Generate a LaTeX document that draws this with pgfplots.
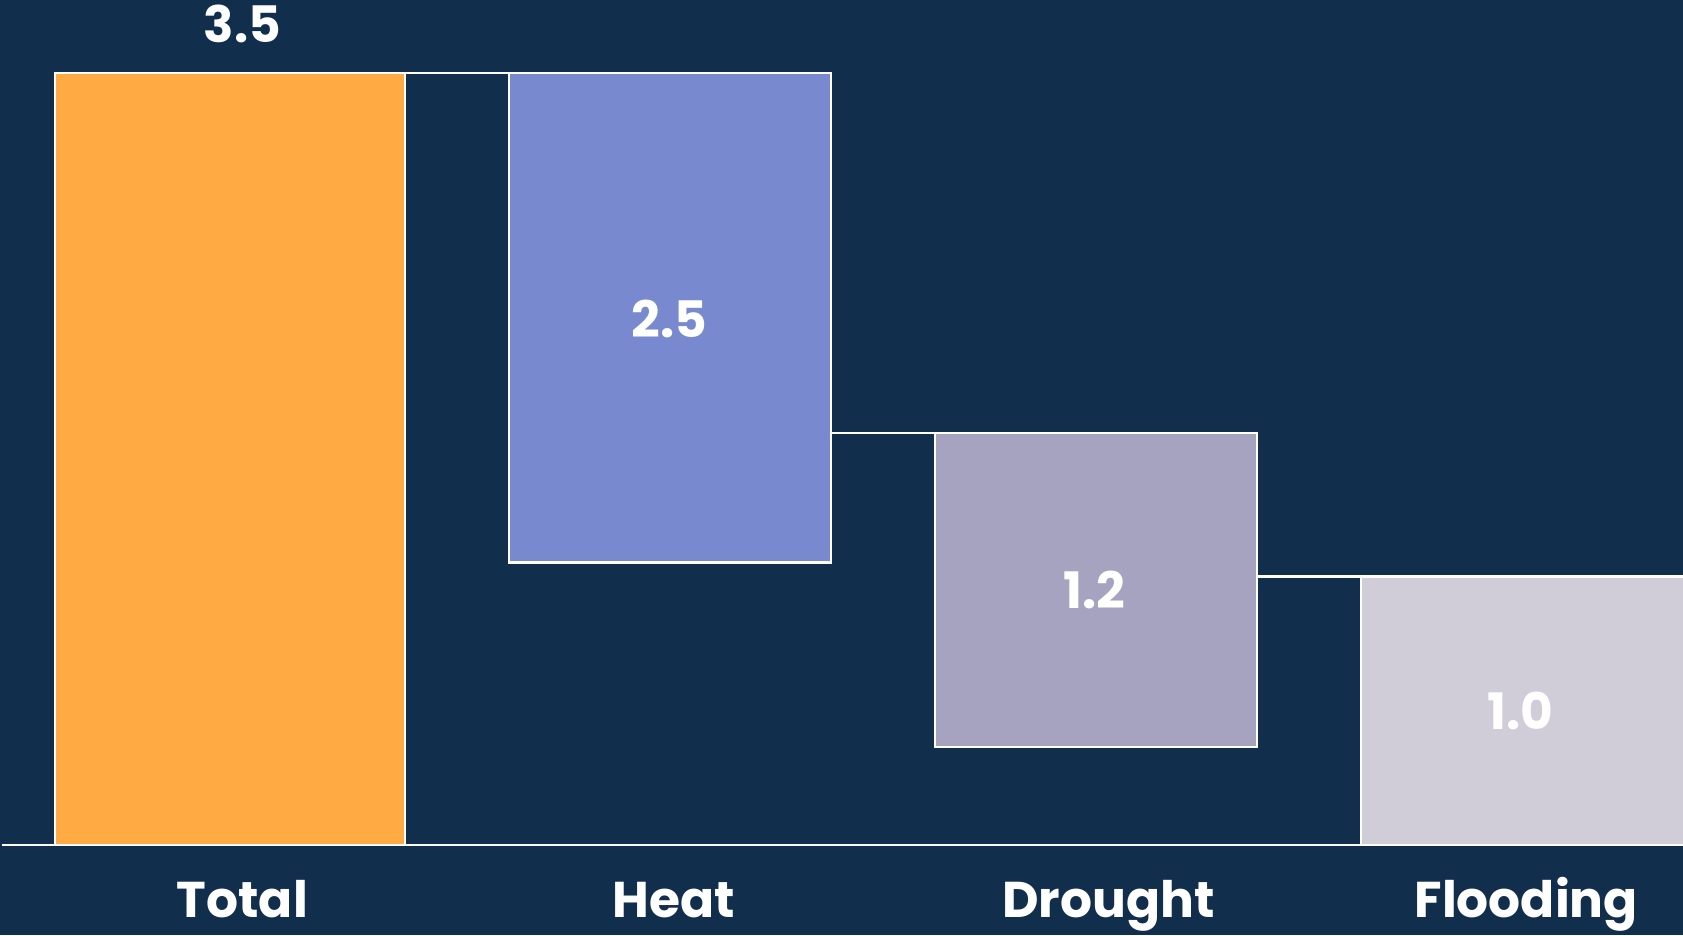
\documentclass[border=0pt]{standalone}
\usepackage{pgfplots}
\pgfplotsset{compat=1.18}
\usepackage{fontspec}
\setmainfont{Poppins}[BoldFont={Poppins Bold}]
\definecolor{bgnavy}{RGB}{18,46,77}
\definecolor{ctotal}{RGB}{255,170,66}
\definecolor{cheat}{RGB}{120,137,207}
\definecolor{cdrought}{RGB}{165,163,191}
\definecolor{cflood}{RGB}{208,205,216}
\tikzset{lbl/.style={text=white, anchor=base, inner sep=0pt, font=\fontsize{14.3}{17}\selectfont\bfseries}}
\begin{document}
\begin{tikzpicture}
\begin{axis}[
  name=ax,
  width=16.83cm, height=9.35cm, scale only axis,
  xmin=-0.5718, xmax=3.378, ymin=-0.4089, ymax=3.831,
  axis lines=none, clip=false,
  axis background/.style={fill=bgnavy},
]
% bars
\addplot[fill=ctotal, draw=white, line width=0.6pt] coordinates {(-0.4433,0) (0.3778,0) (0.3778,3.5) (-0.4433,3.5)} --cycle;
\addplot[fill=cheat, draw=white, line width=0.6pt] coordinates {(0.6222,1.280) (1.3778,1.280) (1.3778,3.5) (0.6222,3.5)} --cycle;
\addplot[fill=cdrought, draw=white, line width=0.6pt] coordinates {(1.6222,0.443) (2.3778,0.443) (2.3778,1.869) (1.6222,1.869)} --cycle;
\addplot[fill=cflood, draw=white, line width=0.6pt] coordinates {(2.6222,0) (3.39,0) (3.39,1.217) (2.6222,1.217)} --cycle;
% connectors
\addplot[white, line width=0.6pt] coordinates {(0.3778,3.5) (0.6222,3.5)};
\addplot[white, line width=0.6pt] coordinates {(1.3778,1.869) (1.6222,1.869)};
\addplot[white, line width=0.6pt] coordinates {(2.3778,1.217) (2.6222,1.217)};
% baseline
\addplot[white, line width=0.6pt] coordinates {(-0.567,0) (3.378,0)};
% value labels
\node[lbl] at (axis cs:-0.003,3.636) {3.5};
\node[lbl] at (axis cs:0.9995,2.302) {2.5};
\node[lbl] at (axis cs:1.997,1.071) {1.2};
\node[lbl] at (axis cs:2.997,0.521) {1.0};
% category labels
\node[lbl] at (axis cs:-0.003,-0.33) {Total};
\node[lbl] at (axis cs:1.01,-0.33) {Heat};
\node[lbl] at (axis cs:2.03,-0.33) {Drought};
\node[lbl] at (axis cs:3.01,-0.33) {Flooding};
\end{axis}
\pgfresetboundingbox
\useasboundingbox (ax.south west) rectangle (ax.north east);
\end{tikzpicture}
\end{document}
